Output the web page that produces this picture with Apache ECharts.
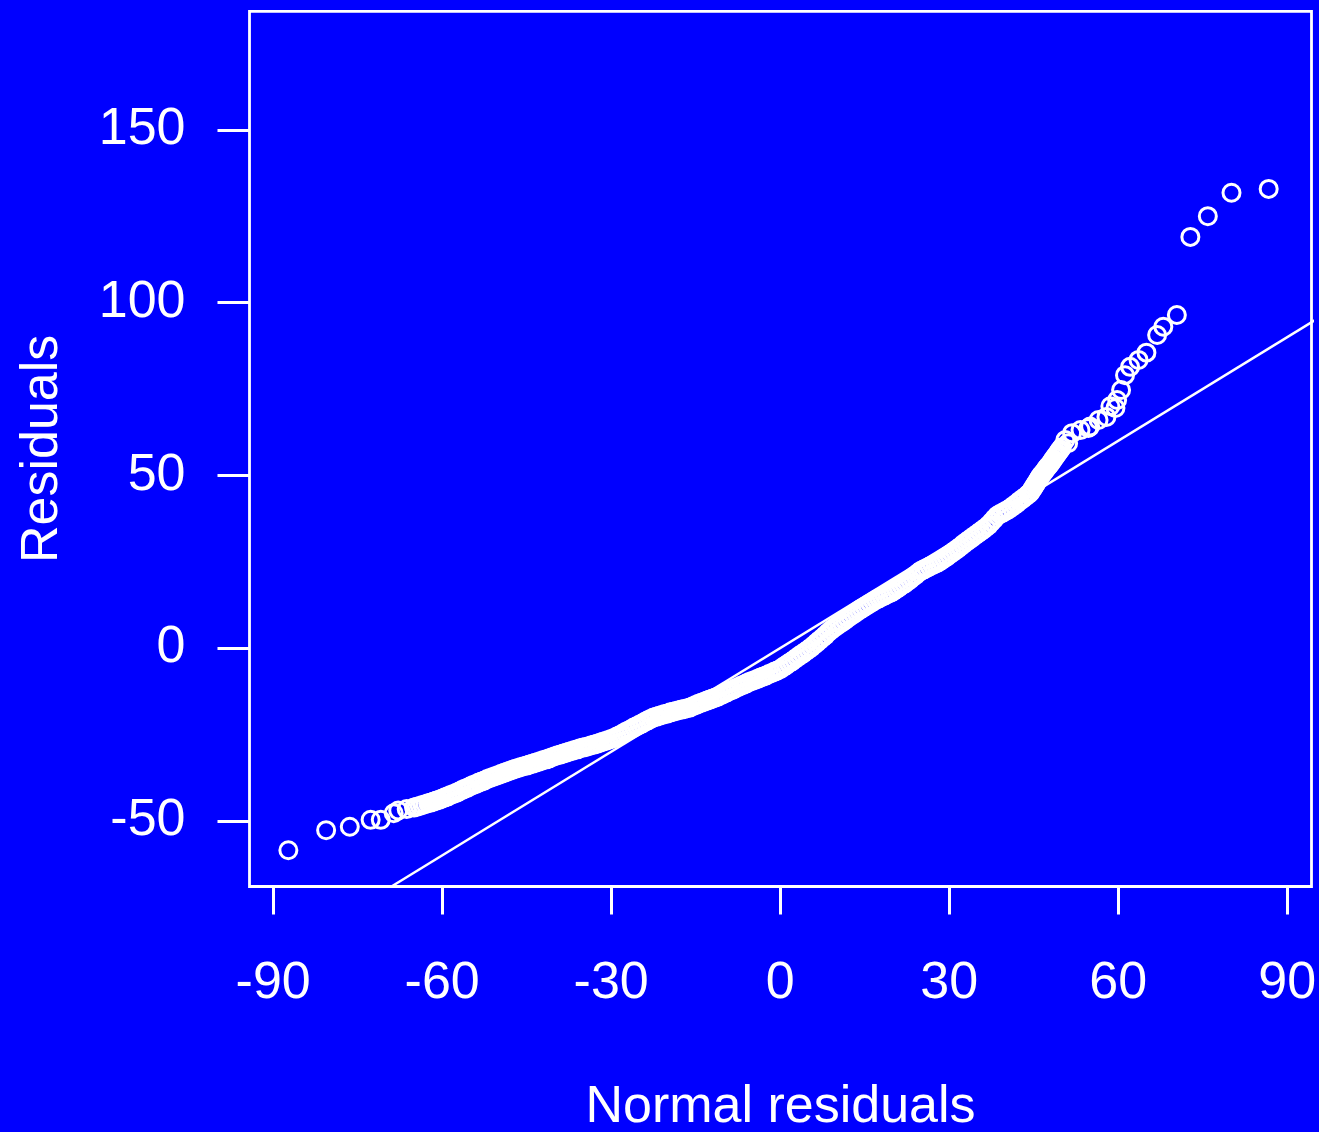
<!DOCTYPE html>
<html>
<head>
<meta charset="utf-8">
<script src="https://cdn.jsdelivr.net/npm/echarts@6/dist/echarts.min.js"></script>
<style>
  html, body { margin: 0; padding: 0; background: #0000ff; }
  #chart { width: 1319px; height: 1132px; }
</style>
</head>
<body>
<div id="chart"></div>
<script>
// Q-Q plot: sorted model residuals against sorted normal residuals

// isolated points in the lower tail
const lowerTail = [
  [-87.3, -58.5], [-80.6, -52.7], [-76.4, -51.7], [-72.7, -49.7], [-70.9, -49.7],
  [-68.6, -47.8], [-67.8, -47.0], [-66.3, -46.6]
];

// the dense central run of points
const centralPoints = [
  [-65.0,-46.1],[-64.5,-45.9],[-64.0,-45.7],[-63.5,-45.4],[-63.0,-45.2],
  [-62.5,-44.9],[-62.0,-44.7],[-61.5,-44.4],[-61.0,-44.1],[-60.5,-43.9],
  [-60.0,-43.5],[-59.5,-43.2],[-59.0,-42.9],[-58.5,-42.5],[-58.0,-42.2],
  [-57.5,-41.9],[-57.0,-41.5],[-56.5,-41.1],[-56.0,-40.7],[-55.5,-40.4],[-55.0,-40.0],[-54.5,-39.6],
  [-54.0,-39.3],[-53.5,-38.9],[-53.0,-38.6],[-52.5,-38.3],[-52.0,-37.9],[-51.5,-37.6],[-51.0,-37.3],
  [-50.5,-37.0],[-50.0,-36.7],[-49.5,-36.4],[-49.0,-36.1],[-48.5,-35.8],[-48.0,-35.5],[-47.5,-35.2],[-47.0,-34.9],
  [-46.5,-34.7],[-46.0,-34.4],[-45.5,-34.2],[-45.0,-34.0],[-44.5,-33.7],[-44.0,-33.5],[-43.5,-33.2],
  [-43.0,-33.0],[-42.5,-32.7],[-42.0,-32.4],[-41.5,-32.2],[-41.0,-31.9],[-40.5,-31.6],[-40.0,-31.3],
  [-39.5,-31.0],[-39.0,-30.8],[-38.5,-30.5],[-38.0,-30.3],[-37.5,-30.0],[-37.0,-29.8],[-36.5,-29.5],[-36.0,-29.3],
  [-35.5,-29.0],[-35.0,-28.8],[-34.5,-28.6],[-34.0,-28.4],[-33.5,-28.1],[-33.0,-27.9],[-32.5,-27.7],
  [-32.0,-27.4],[-31.5,-27.1],[-31.0,-26.9],[-30.5,-26.6],[-30.0,-26.3],[-29.5,-26.0],
  [-29.0,-25.6],[-28.5,-25.2],[-28.0,-24.8],[-27.5,-24.3],[-27.0,-23.9],[-26.5,-23.5],[-26.0,-23.0],[-25.5,-22.6],
  [-25.0,-22.2],[-24.5,-21.8],[-24.0,-21.3],[-23.5,-20.9],[-23.0,-20.5],[-22.5,-20.1],
  [-22.0,-19.9],[-21.5,-19.6],[-21.0,-19.4],[-20.5,-19.1],[-20.0,-18.9],
  [-19.5,-18.6],[-19.0,-18.4],[-18.5,-18.2],[-18.0,-18.0],[-17.5,-17.8],[-17.0,-17.6],[-16.5,-17.4],[-16.0,-17.2],
  [-15.5,-16.8],[-15.0,-16.5],[-14.5,-16.1],
  [-14.0,-15.8],[-13.5,-15.5],[-13.0,-15.2],[-12.5,-14.9],[-12.0,-14.6],[-11.5,-14.3],
  [-11.0,-14.0],[-10.5,-13.6],[-10.0,-13.2],[-9.5,-12.8],[-9.0,-12.4],[-8.5,-12.1],
  [-8.0,-11.7],[-7.5,-11.3],[-7.0,-10.9],[-6.5,-10.6],[-6.0,-10.2],
  [-5.5,-9.8],[-5.0,-9.5],[-4.5,-9.2],[-4.0,-8.9],[-3.5,-8.5],[-3.0,-8.2],
  [-2.5,-7.9],[-2.0,-7.5],[-1.5,-7.2],[-1.0,-6.8],[-0.5,-6.5],[0.0,-6.1],
  [0.5,-5.5],[1.0,-5.0],[1.5,-4.4],[2.0,-3.9],
  [2.5,-3.3],[3.0,-2.7],[3.5,-2.1],[4.0,-1.6],[4.5,-1.0],[5.0,-0.4],
  [5.5,0.2],[6.0,0.9],[6.5,1.6],[7.0,2.3],[7.5,3.0],[8.0,3.7],[8.5,4.5],[9.0,5.2],
  [9.5,5.8],[10.0,6.4],[10.5,7.0],[11.0,7.5],[11.5,8.1],[12.0,8.7],[12.5,9.3],[13.0,9.8],[13.5,10.4],[14.0,11.0],
  [14.5,11.5],[15.0,12.0],[15.5,12.5],[16.0,13.0],[16.5,13.5],[17.0,14.0],
  [17.5,14.4],[18.0,14.8],[18.5,15.2],[19.0,15.6],[19.5,16.0],[20.0,16.4],
  [20.5,17.0],[21.0,17.5],[21.5,18.1],[22.0,18.6],[22.5,19.2],
  [23.0,19.8],[23.5,20.5],[24.0,21.1],[24.5,21.8],
  [25.0,22.4],[25.5,22.8],[26.0,23.2],[26.5,23.6],[27.0,24.0],[27.5,24.4],
  [28.0,24.8],[28.5,25.3],[29.0,25.9],[29.5,26.4],
  [30.0,27.0],[30.5,27.6],[31.0,28.2],[31.5,28.8],[32.0,29.4],[32.5,30.1],[33.0,30.7],
  [33.5,31.3],[34.0,31.9],[34.5,32.5],[35.0,33.1],[35.5,33.7],[36.0,34.3],[36.5,34.9],
  [37.0,35.6],[37.5,36.5],[38.0,37.4],[38.5,38.3],
  [39.0,38.8],[39.5,39.2],[40.0,39.7],[40.5,40.1],
  [41.0,40.7],[41.5,41.3],[42.0,41.9],[42.5,42.6],[43.0,43.2],[43.5,43.8],[44.0,44.5],
  [44.25,44.8],[44.5,45.3],[44.75,46.0],[45.0,46.6],[45.25,47.3],[45.5,47.9],[45.75,48.6],[46.0,49.3],
  [46.25,49.9],[46.5,50.4],[46.75,50.9],[47.0,51.4],[47.25,52.0],[47.5,52.5],[47.75,53.0],[48.0,53.5],
  [48.25,54.1],[48.5,54.7],[48.75,55.3],[49.0,55.8],[49.25,56.4],[49.5,57.0],[49.75,57.5],[50.0,58.1]
];

// isolated points in the upper tail
const upperTail = [
  [50.6, 60.2], [51.1, 59.3], [51.8, 62.2], [53.3, 63.1], [54.7, 63.7], [55.0, 64.1],
  [56.5, 66.0], [57.9, 66.9], [58.6, 70.0], [59.5, 69.5], [59.8, 71.8], [60.5, 74.7],
  [61.2, 79.0], [62.1, 81.4], [63.6, 83.4], [65.0, 85.5], [66.9, 90.6], [68.0, 93.0],
  [70.4, 96.4], [72.8, 119.0], [75.9, 125.0], [80.1, 131.8], [86.7, 132.9]
];

// identity reference line y = x
const identityLine = [[-100, -100], [100, 100]];

const xTicks = [-90, -60, -30, 0, 30, 60, 90];
const yTicks = [-50, 0, 50, 100, 150];

const FONT = '"Liberation Sans", Arial, Helvetica, sans-serif';
const WHITE = '#ffffff';

const chart = echarts.init(document.getElementById('chart'), null, { renderer: 'canvas' });

const pointStyle = {
  type: 'scatter',
  symbol: 'circle',
  symbolSize: 17,
  itemStyle: { color: 'rgba(0,0,0,0)', borderColor: WHITE, borderWidth: 3, opacity: 1 },
  emphasis: { disabled: true },
  silent: true
};

chart.setOption({
  animation: false,
  backgroundColor: '#0000ff',
  grid: {
    show: true,
    left: 249.5,
    right: 7.5,
    top: 11.3,
    bottom: 1132 - 886.5,
    containLabel: false,
    outerBoundsMode: 'none',
    borderColor: WHITE,
    borderWidth: 2.8,
    backgroundColor: 'rgba(0,0,0,0)'
  },
  xAxis: {
    type: 'value',
    min: -94.2,
    max: 94.3,
    name: 'Normal residuals',
    nameLocation: 'middle',
    nameGap: 195,
    nameTextStyle: { color: WHITE, fontSize: 52, fontFamily: FONT },
    axisLine: { show: false, onZero: false },
    splitLine: { show: false },
    axisTick: {
      show: true,
      length: 28,
      customValues: xTicks,
      lineStyle: { color: WHITE, width: 3 }
    },
    axisLabel: {
      customValues: xTicks,
      margin: 71,
      color: WHITE,
      fontSize: 52,
      fontFamily: FONT
    }
  },
  yAxis: {
    type: 'value',
    min: -69.0,
    max: 184.3,
    name: 'Residuals',
    nameLocation: 'middle',
    nameGap: 181,
    nameTextStyle: { color: WHITE, fontSize: 52, fontFamily: FONT },
    axisLine: { show: false, onZero: false },
    splitLine: { show: false },
    axisTick: {
      show: true,
      length: 32,
      customValues: yTicks,
      lineStyle: { color: WHITE, width: 3 }
    },
    axisLabel: {
      customValues: yTicks,
      margin: 64,
      color: WHITE,
      fontSize: 52,
      fontFamily: FONT
    }
  },
  series: [
    Object.assign({ name: 'lower', data: lowerTail }, pointStyle),
    Object.assign({ name: 'central', data: centralPoints }, pointStyle),
    Object.assign({ name: 'upper', data: upperTail }, pointStyle),
    {
      type: 'line',
      name: 'identity',
      data: identityLine,
      showSymbol: false,
      clip: true,
      lineStyle: { color: WHITE, width: 2.4 },
      silent: true,
      z: 3
    }
  ]
});
</script>
</body>
</html>
